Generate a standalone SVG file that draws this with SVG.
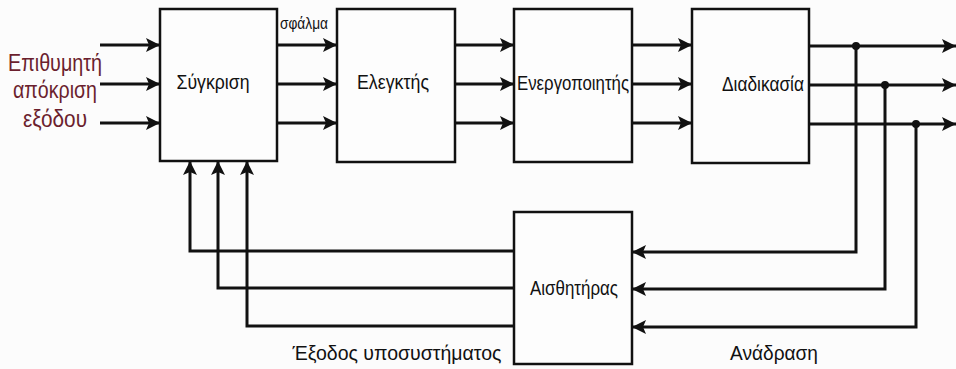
<svg xmlns="http://www.w3.org/2000/svg" width="956" height="369" viewBox="0 0 956 369">
<defs>
<marker id="ah" markerUnits="userSpaceOnUse" markerWidth="15" markerHeight="14" refX="14" refY="7" orient="auto">
<path d="M0,0 L14,7 L0,14 L3,7 Z" fill="#111"/>
</marker>
<style>
.box{fill:#fdfdfd;stroke:#111;stroke-width:2.5}
.lbl{font-family:"Liberation Sans",Arial,sans-serif;font-size:21px;fill:#111;text-anchor:middle}
.in{font-family:"Liberation Sans",Arial,sans-serif;font-size:24px;fill:#6b1f2e;text-anchor:middle}
.w{fill:none;stroke:#111;stroke-width:3}
.a{marker-end:url(#ah)}
</style>
</defs>
<rect width="956" height="369" fill="#fcfcfc"/>
<g id="input-label">
<text class="in" x="55" y="71" textLength="94" lengthAdjust="spacingAndGlyphs">Επιθυμητή</text>
<text class="in" x="55" y="98" textLength="84" lengthAdjust="spacingAndGlyphs">απόκριση</text>
<text class="in" x="55" y="127" textLength="64" lengthAdjust="spacingAndGlyphs">εξόδου</text>
</g>
<g id="sygkrisi">
<rect class="box" x="160" y="9" width="117" height="152"/>
<text class="lbl" x="213" y="89" textLength="73" lengthAdjust="spacingAndGlyphs">Σύγκριση</text>
</g>
<g id="elegktis">
<rect class="box" x="337" y="9" width="118" height="153"/>
<text class="lbl" x="393" y="89" textLength="72" lengthAdjust="spacingAndGlyphs">Ελεγκτής</text>
</g>
<g id="energopoiitis">
<rect class="box" x="514" y="9" width="118" height="153"/>
<text class="lbl" x="573" y="90" textLength="112" lengthAdjust="spacingAndGlyphs">Ενεργοποιητής</text>
</g>
<g id="diadikasia">
<rect class="box" x="692" y="9" width="117" height="154"/>
<text class="lbl" x="763" y="91" textLength="82" lengthAdjust="spacingAndGlyphs">Διαδικασία</text>
</g>
<g id="aisthitiras">
<rect class="box" x="514" y="212" width="118" height="152"/>
<text class="lbl" x="574" y="295" textLength="88" lengthAdjust="spacingAndGlyphs">Αισθητήρας</text>
</g>
<g id="connectors">
<path class="w a" d="M100,45 H160"/>
<path class="w a" d="M100,84 H160"/>
<path class="w a" d="M100,123 H160"/>
<path class="w a" d="M277,45 H337"/>
<path class="w a" d="M277,84 H337"/>
<path class="w a" d="M277,123 H337"/>
<path class="w a" d="M455,45 H514"/>
<path class="w a" d="M455,84 H514"/>
<path class="w a" d="M455,123 H514"/>
<path class="w a" d="M632,45 H692"/>
<path class="w a" d="M632,84 H692"/>
<path class="w a" d="M632,123 H692"/>
<path class="w a" d="M809,46 H956"/>
<path class="w a" d="M809,85 H956"/>
<path class="w a" d="M809,124 H956"/>
<circle cx="856" cy="46" r="4" fill="#111"/>
<circle cx="885" cy="85" r="4" fill="#111"/>
<circle cx="916" cy="124" r="4" fill="#111"/>
<path class="w a" d="M856,46 V252 H632"/>
<path class="w a" d="M885,85 V289 H632"/>
<path class="w a" d="M916,124 V327 H632"/>
<path class="w a" d="M514,251 H190 V161"/>
<path class="w a" d="M514,288 H218 V161"/>
<path class="w a" d="M514,326 H247 V161"/>
</g>
<g id="labels">
<text x="304" y="29" font-family="Liberation Sans,Arial,sans-serif" font-size="16" fill="#111" text-anchor="middle" textLength="48" lengthAdjust="spacingAndGlyphs">σφάλμα</text>
<text class="lbl" x="397" y="360" textLength="209" lengthAdjust="spacingAndGlyphs">Έξοδος υποσυστήματος</text>
<text class="lbl" x="774" y="360" textLength="88" lengthAdjust="spacingAndGlyphs">Ανάδραση</text>
</g>
</svg>
